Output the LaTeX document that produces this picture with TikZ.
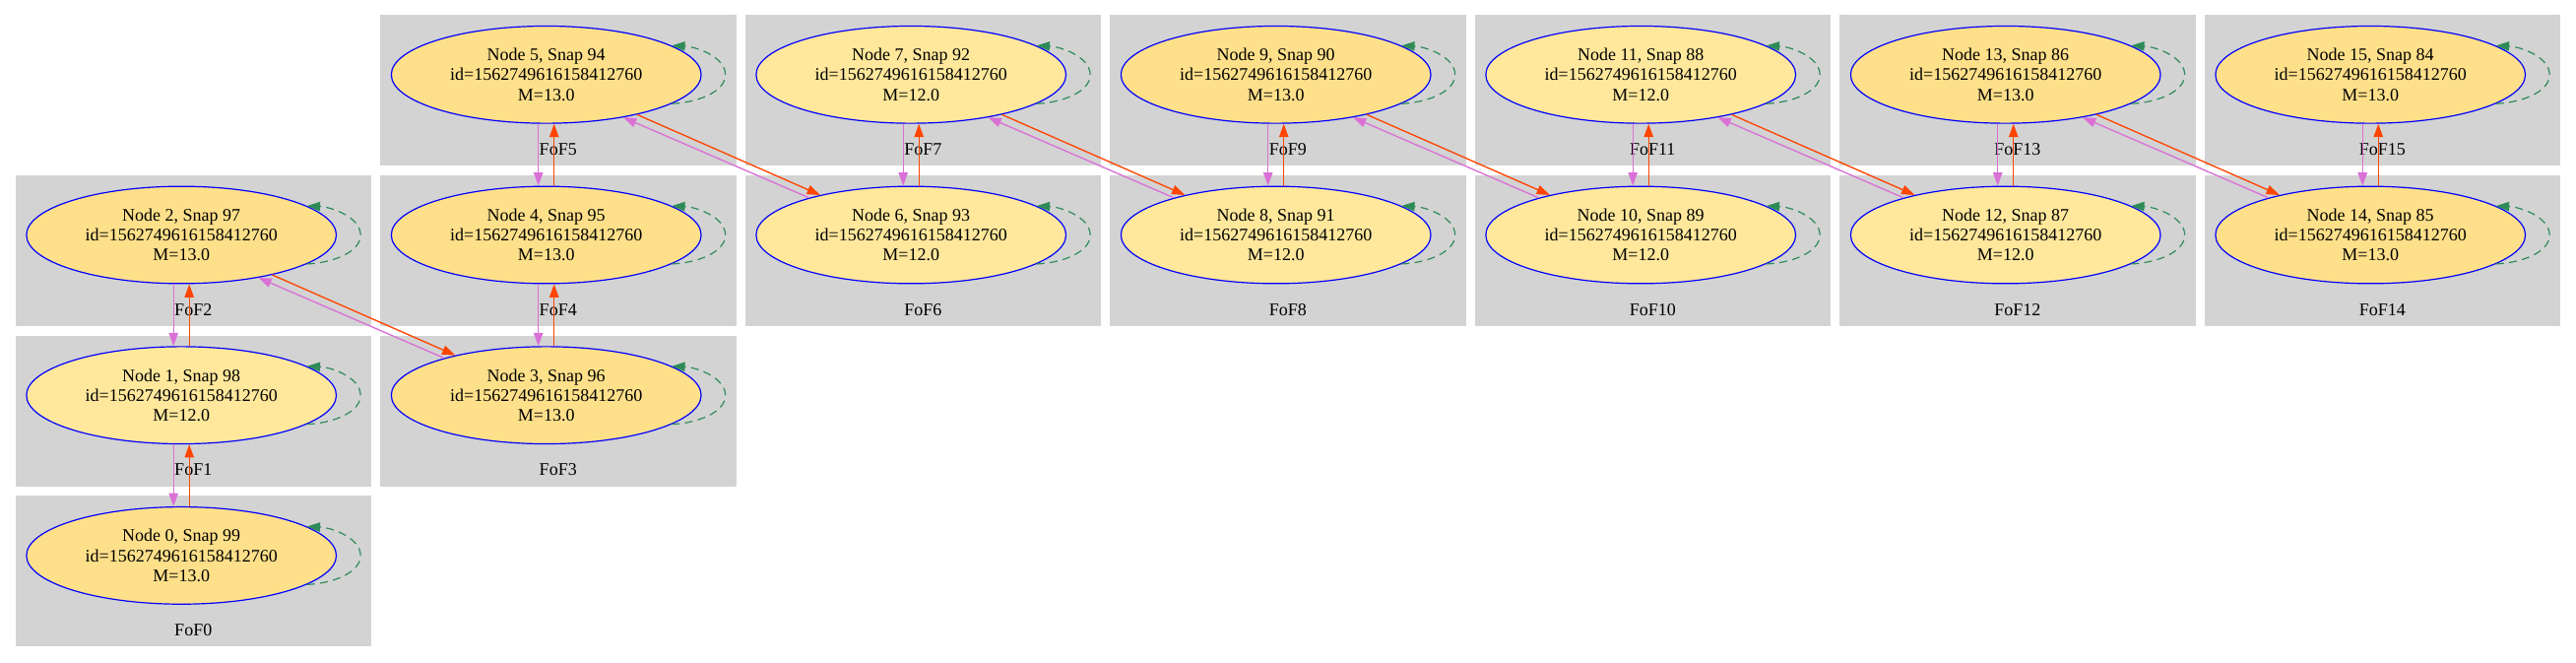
\documentclass[tikz,border=0pt]{standalone}
\usepackage{fontspec}
\setmainfont{Liberation Serif}
\usetikzlibrary{arrows.meta,shapes.geometric}
\definecolor{boxgray}{HTML}{D3D3D3}
\definecolor{fillhi}{HTML}{FFE08A}
\definecolor{filllo}{HTML}{FFE89C}
\definecolor{orred}{HTML}{FF4500}
\definecolor{orch}{HTML}{DA70D6}
\definecolor{sgreen}{HTML}{2E8B57}
\begin{document}
\begin{tikzpicture}[x=0.75pt,y=-0.75pt,
  fofbox/.style={fill=boxgray},
  foflabel/.style={font=\fontsize{13.5}{15.2}\selectfont, anchor=base, inner sep=0pt},
  snapnode/.style={ellipse, draw=blue, line width=0.9pt, minimum width=236pt,
    minimum height=74pt, inner sep=0pt, align=center,
    font=\fontsize{13.5}{15.2}\selectfont},
  m13/.style={snapnode, fill=fillhi},
  m12/.style={snapnode, fill=filllo},
  fwd/.style={draw=orred, line width=1pt, -{Triangle[length=10pt,width=7pt]}},
  bwd/.style={draw=orch, line width=1pt, -{Triangle[length=10pt,width=7pt]}},
  selfloop/.style={draw=sgreen, line width=0.9pt, dash pattern=on 6pt off 4pt,
    -{Triangle[length=10pt,width=7pt]}}
]
\useasboundingbox (0,0) rectangle (2616,672);
\fill[white] (0,0) rectangle (2616,672);
% clusters: k / column / row
\foreach \k/\c/\r in {0/0/3,1/0/2,2/0/1,3/1/2,4/1/1,5/1/0,6/2/1,7/2/0,8/3/1,9/3/0,
  10/4/1,11/4/0,12/5/1,13/5/0,14/6/1,15/6/0}{
  \pgfmathsetmacro\bl{15.5+370.5*\c}
  \pgfmathsetmacro\bt{15.3+162.7*\r}
  \fill[fofbox] (\bl,\bt) rectangle ++(361.5,153);
  \node[foflabel] (lab\k) at (\bl+180.75,\bt+142.2) {FoF\k};
}
% snapshot nodes: k / column / row / mass
\foreach \k/\c/\r/\m in {0/0/3/13,1/0/2/12,2/0/1/13,3/1/2/13,4/1/1/13,5/1/0/13,
  6/2/1/12,7/2/0/12,8/3/1/12,9/3/0/13,10/4/1/12,11/4/0/12,12/5/1/12,13/5/0/13,
  14/6/1/13,15/6/0/13}{
  \pgfmathsetmacro\bl{15.5+370.5*\c}
  \pgfmathsetmacro\bt{15.3+162.7*\r}
  \pgfmathtruncatemacro\snap{99-\k}
  \node[m\m] (n\k) at (\bl+168.7,\bt+60.5)
    {Node \k, Snap \snap\\id=1562749616158412760\\M=\m.0};
}
% self loops
\foreach \k in {0,...,15}{
  \draw[selfloop] (n\k.-13) .. controls +(25,-1) and +(0,18) .. ([xshift=18pt]n\k.east)
    .. controls +(0,-18) and +(25,1) .. (n\k.13);
}
% vertical pairs: lower / upper
\foreach \a/\b in {0/1,1/2,3/4,4/5,6/7,8/9,10/11,12/13,14/15}{
  \draw[fwd] ([xshift=6pt]n\a.north) -- ([xshift=6pt]n\b.south);
  \draw[bwd] ([xshift=-6pt]n\b.south) -- ([xshift=-6pt]n\a.north);
}
% diagonal pairs
\foreach \a/\b in {2/3,5/6,7/8,9/10,11/12,13/14}{
  \draw[fwd] (n\a) -- (n\b);
  \draw[bwd] (n\b.160.5) -- (n\a.331.4);
}
\end{tikzpicture}
\end{document}
